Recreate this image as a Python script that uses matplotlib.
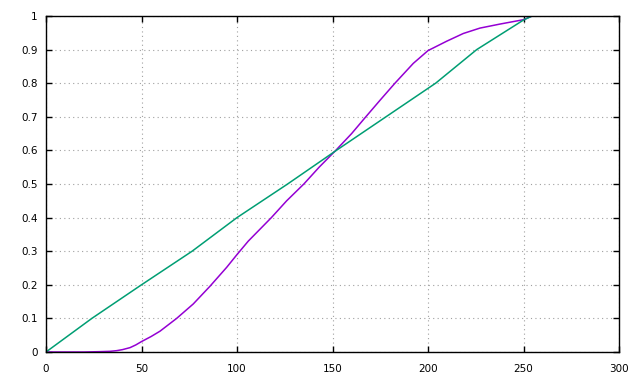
import matplotlib
matplotlib.use("Agg")
import matplotlib.pyplot as plt

# purple curve
purple_x = [0, 20, 28, 33.5, 37, 40, 44, 47, 50, 55, 59.7, 68.4, 77.1, 85.9, 94.6, 100,
            105.9, 118, 126, 135, 143, 151.7, 160, 167, 175, 182.7, 192.3, 200, 209.8,
            218.5, 227.2, 237.7, 250, 254.5]
purple_y = [0, 0, 0.001, 0.002, 0.004, 0.007, 0.013, 0.021, 0.031, 0.046, 0.062, 0.1,
            0.143, 0.196, 0.252, 0.29, 0.33, 0.4, 0.45, 0.5, 0.55, 0.6, 0.65, 0.697, 0.75,
            0.8, 0.859, 0.897, 0.925, 0.948, 0.964, 0.976, 0.989, 1.0]

# green curve
green_x = [0, 24, 50, 76.5, 100, 126.5, 152, 178, 204, 225.5, 250, 254.5]
green_y = [0, 0.1, 0.2, 0.3, 0.4, 0.5, 0.6, 0.7, 0.8, 0.9, 0.988, 1.0]

xticks = [0, 50, 100, 150, 200, 250, 300]
yticks = [0, 0.1, 0.2, 0.3, 0.4, 0.5, 0.6, 0.7, 0.8, 0.9, 1]
ylabels = ["0", "0.1", "0.2", "0.3", "0.4", "0.5", "0.6", "0.7", "0.8", "0.9", "1"]

fig = plt.figure(figsize=(6.4, 3.84), dpi=100)
ax = fig.add_axes([46 / 640, 32 / 384, 573 / 640, 336 / 384])

ax.plot(purple_x, purple_y, color="#9400d3", lw=1.1)
ax.plot(green_x, green_y, color="#009e73", lw=1.1)

ax.set_xlim(0, 300)
ax.set_ylim(0, 1)
ax.set_xticks(xticks)
ax.set_yticks(yticks)
ax.set_yticklabels(ylabels)
ax.grid(True, color="#a0a0a0", linestyle=(0, (1, 3)), linewidth=0.8)
ax.tick_params(direction="in", length=4.5, width=1, top=True, right=True,
               labelsize=7.5, colors="black")
ax.tick_params(axis="x", pad=9)
ax.tick_params(axis="y", pad=6)
for s in ax.spines.values():
    s.set_linewidth(1)

fig.savefig("out.png", dpi=100)
